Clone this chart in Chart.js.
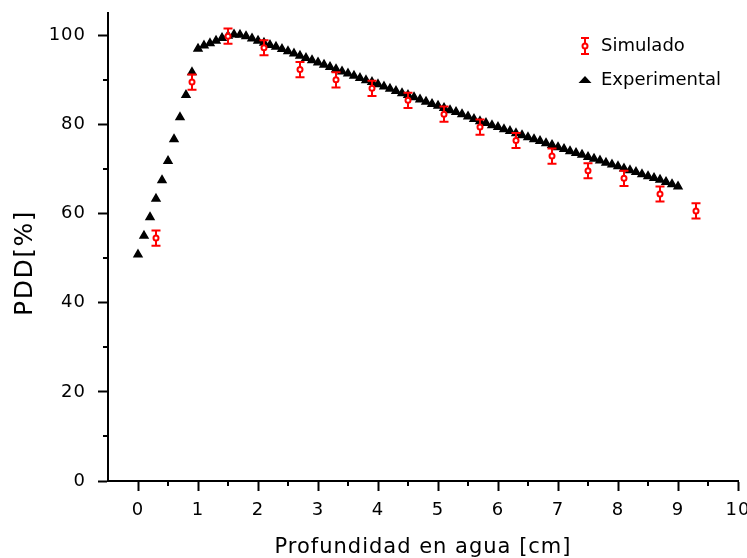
<!DOCTYPE html>
<html>
<head>
<meta charset="utf-8">
<script src="https://cdn.jsdelivr.net/npm/chart.js@4.4.0/dist/chart.umd.min.js"></script>
<style>
  html, body { margin: 0; padding: 0; background: #fff; }
</style>
</head>
<body>
<canvas id="pdd" width="747" height="558"></canvas>
<script>
// Simulado (Monte Carlo) - profundidad [cm], PDD [%], error
var simX = [0.3, 0.9, 1.5, 2.1, 2.7, 3.3, 3.9, 4.5, 5.1, 5.7, 6.3, 6.9, 7.5, 8.1, 8.7, 9.3];
var simY = [54.5, 89.5, 99.8, 97.2, 92.3, 90.0, 88.1, 85.4, 82.3, 79.4, 76.4, 72.9, 69.6, 67.9, 64.4, 60.6];
var simErr = [1.7, 1.7, 1.7, 1.7, 1.7, 1.7, 1.7, 1.7, 1.7, 1.7, 1.7, 1.7, 1.7, 1.7, 1.7, 1.7];

// Experimental
var expX = [0, 0.1, 0.2, 0.3, 0.4, 0.5, 0.6, 0.7, 0.8, 0.9,
    1.0, 1.1, 1.2, 1.3, 1.4, 1.5, 1.6, 1.7, 1.8, 1.9,
    2.0, 2.1, 2.2, 2.3, 2.4, 2.5, 2.6, 2.7, 2.8, 2.9,
    3.0, 3.1, 3.2, 3.3, 3.4, 3.5, 3.6, 3.7, 3.8, 3.9,
    4.0, 4.1, 4.2, 4.3, 4.4, 4.5, 4.6, 4.7, 4.8, 4.9,
    5.0, 5.1, 5.2, 5.3, 5.4, 5.5, 5.6, 5.7, 5.8, 5.9,
    6.0, 6.1, 6.2, 6.3, 6.4, 6.5, 6.6, 6.7, 6.8, 6.9,
    7.0, 7.1, 7.2, 7.3, 7.4, 7.5, 7.6, 7.7, 7.8, 7.9,
    8.0, 8.1, 8.2, 8.3, 8.4, 8.5, 8.6, 8.7, 8.8, 8.9,
    9.0];
var expY = [50.8, 55.0, 59.2, 63.3, 67.5, 71.8, 76.7, 81.6, 86.6, 91.7,
    97.0, 97.7, 98.2, 98.8, 99.4, 99.9, 100.2, 100.1, 99.8, 99.3,
    98.8, 98.3, 97.8, 97.4, 96.9, 96.4, 95.9, 95.4, 94.9, 94.4,
    93.9, 93.4, 92.9, 92.4, 91.9, 91.4, 90.9, 90.4, 89.9, 89.5,
    89.0, 88.5, 88.0, 87.5, 87.0, 86.6, 86.1, 85.6, 85.1, 84.6,
    84.2, 83.7, 83.2, 82.8, 82.3, 81.8, 81.2, 80.7, 80.3, 79.8,
    79.4, 78.9, 78.5, 78.0, 77.6, 77.1, 76.7, 76.3, 75.8, 75.4,
    74.9, 74.5, 74.0, 73.6, 73.2, 72.7, 72.3, 71.9, 71.4, 71.0,
    70.6, 70.1, 69.7, 69.3, 68.8, 68.4, 68.0, 67.6, 67.1, 66.6,
    66.1];

var seriesNames = ['Simulado', 'Experimental'];
var yTitle = 'PDD[%]';

function toPoints(xs, ys) {
    var out = [];
    for (var i = 0; i < xs.length; i++) out.push({ x: xs[i], y: ys[i] });
    return out;
}

Chart.defaults.font.family = 'DejaVu Sans';
Chart.defaults.color = '#000';

// un poco de espaciado entre letras, como en el original
var spacing = {
    id: 'spacing',
    beforeDraw: function (chart) {
        chart.ctx.letterSpacing = '1px';
    }
};

// barras de error del simulado, debajo de los circulos
var errorBars = {
    id: 'errorBars',
    beforeDatasetDraw: function (chart, args) {
        if (args.index !== 0) return;
        var ctx = chart.ctx, ys = chart.scales.y;
        var pts = args.meta.data;
        ctx.save();
        ctx.strokeStyle = '#ff0000';
        ctx.lineWidth = 2;
        ctx.beginPath();
        for (var i = 0; i < pts.length; i++) {
            var px = Math.round(pts[i].x);
            var top = ys.getPixelForValue(simY[i] + simErr[i]);
            var bot = ys.getPixelForValue(simY[i] - simErr[i]);
            ctx.moveTo(px, top); ctx.lineTo(px, bot);
            ctx.moveTo(px - 4.5, top); ctx.lineTo(px + 4.5, top);
            ctx.moveTo(px - 4.5, bot); ctx.lineTo(px + 4.5, bot);
        }
        ctx.stroke();
        ctx.restore();
    }
};

// ticks menores a mitad de camino + titulo del eje y
var axisExtras = {
    id: 'axisExtras',
    afterDraw: function (chart) {
        var ctx = chart.ctx, xs = chart.scales.x, ys = chart.scales.y;
        var i, v, p;
        ctx.save();
        ctx.strokeStyle = '#000';
        ctx.lineWidth = 2;
        ctx.beginPath();
        for (i = 0; i < xs.ticks.length - 1; i++) {
            v = (xs.ticks[i].value + xs.ticks[i + 1].value) / 2;
            p = Math.round(xs.getPixelForValue(v));
            ctx.moveTo(p, xs.top); ctx.lineTo(p, xs.top + 5);
        }
        for (i = 0; i < ys.ticks.length - 1; i++) {
            v = (ys.ticks[i].value + ys.ticks[i + 1].value) / 2;
            p = Math.round(ys.getPixelForValue(v));
            ctx.moveTo(ys.right, p); ctx.lineTo(ys.right - 5, p);
        }
        ctx.stroke();

        ctx.translate(25, 263);
        ctx.rotate(-Math.PI / 2);
        ctx.letterSpacing = '1.5px';
        ctx.font = '25px "DejaVu Sans"';
        ctx.fillStyle = '#000';
        ctx.textAlign = 'center';
        ctx.textBaseline = 'middle';
        ctx.fillText(yTitle, 0, 0);
        ctx.restore();
    }
};

// leyenda arriba a la derecha
var cornerLegend = {
    id: 'cornerLegend',
    afterDraw: function (chart) {
        var ctx = chart.ctx;
        var mx = 585, tx = 601, y1 = 46, y2 = 80;
        ctx.save();
        ctx.strokeStyle = '#ff0000';
        ctx.lineWidth = 2;
        ctx.beginPath();
        ctx.moveTo(mx, y1 - 8); ctx.lineTo(mx, y1 + 8);
        ctx.moveTo(mx - 4, y1 - 8); ctx.lineTo(mx + 4, y1 - 8);
        ctx.moveTo(mx - 4, y1 + 8); ctx.lineTo(mx + 4, y1 + 8);
        ctx.stroke();
        ctx.fillStyle = '#fff';
        ctx.beginPath();
        ctx.arc(mx, y1, 2.5, 0, Math.PI * 2);
        ctx.fill();
        ctx.stroke();
        ctx.fillStyle = '#000';
        ctx.beginPath();
        ctx.moveTo(mx, y2 - 4);
        ctx.lineTo(mx + 6.5, y2 + 3);
        ctx.lineTo(mx - 6.5, y2 + 3);
        ctx.closePath();
        ctx.fill();
        ctx.letterSpacing = '0px';
        ctx.font = '18px "DejaVu Sans"';
        ctx.textBaseline = 'middle';
        ctx.textAlign = 'left';
        ctx.fillText(seriesNames[0], tx, y1);
        ctx.fillText(seriesNames[1], tx, y2);
        ctx.restore();
    }
};

var ctx = document.getElementById('pdd').getContext('2d');
var myChart = new Chart(ctx, {
    type: 'scatter',
    data: {
        datasets: [{
            label: seriesNames[0],
            data: toPoints(simX, simY),
            pointStyle: 'circle',
            pointRadius: 2.5,
            pointBorderWidth: 2,
            borderColor: '#ff0000',
            backgroundColor: '#ffffff'
        }, {
            label: seriesNames[1],
            data: toPoints(expX, expY),
            pointStyle: 'triangle',
            pointRadius: 4.5,
            pointBorderWidth: 1.5,
            borderColor: '#000',
            backgroundColor: '#000'
        }]
    },
    options: {
        responsive: false,
        animation: false,
        layout: { padding: { top: 13, right: 9, bottom: 0, left: 0 } },
        plugins: {
            legend: { display: false },
            tooltip: { enabled: false }
        },
        scales: {
            x: {
                type: 'linear',
                min: -0.5,
                max: 10,
                border: { color: '#000', width: 2 },
                grid: { drawOnChartArea: false, tickLength: 10, tickWidth: 2, tickColor: '#000' },
                ticks: { stepSize: 1, includeBounds: false, padding: 9, maxRotation: 0, autoSkip: false, font: { size: 18 } },
                title: { display: true, text: 'Profundidad en agua [cm]', font: { size: 21, lineHeight: 1 }, padding: { top: 0, bottom: 0 } },
                afterFit: function (s) { s.height = 77; s.paddingLeft = 0; s.paddingRight = 0; }
            },
            y: {
                min: 0,
                max: 105,
                border: { color: '#000', width: 2 },
                grid: { drawOnChartArea: false, tickLength: 10, tickWidth: 2, tickColor: '#000' },
                ticks: { stepSize: 20, includeBounds: false, padding: 12, font: { size: 18 } },
                title: { display: false },
                afterFit: function (s) { s.width = 108; s.paddingTop = 0; s.paddingBottom = 0; }
            }
        }
    },
    plugins: [spacing, errorBars, axisExtras, cornerLegend]
});
</script>
</body>
</html>
